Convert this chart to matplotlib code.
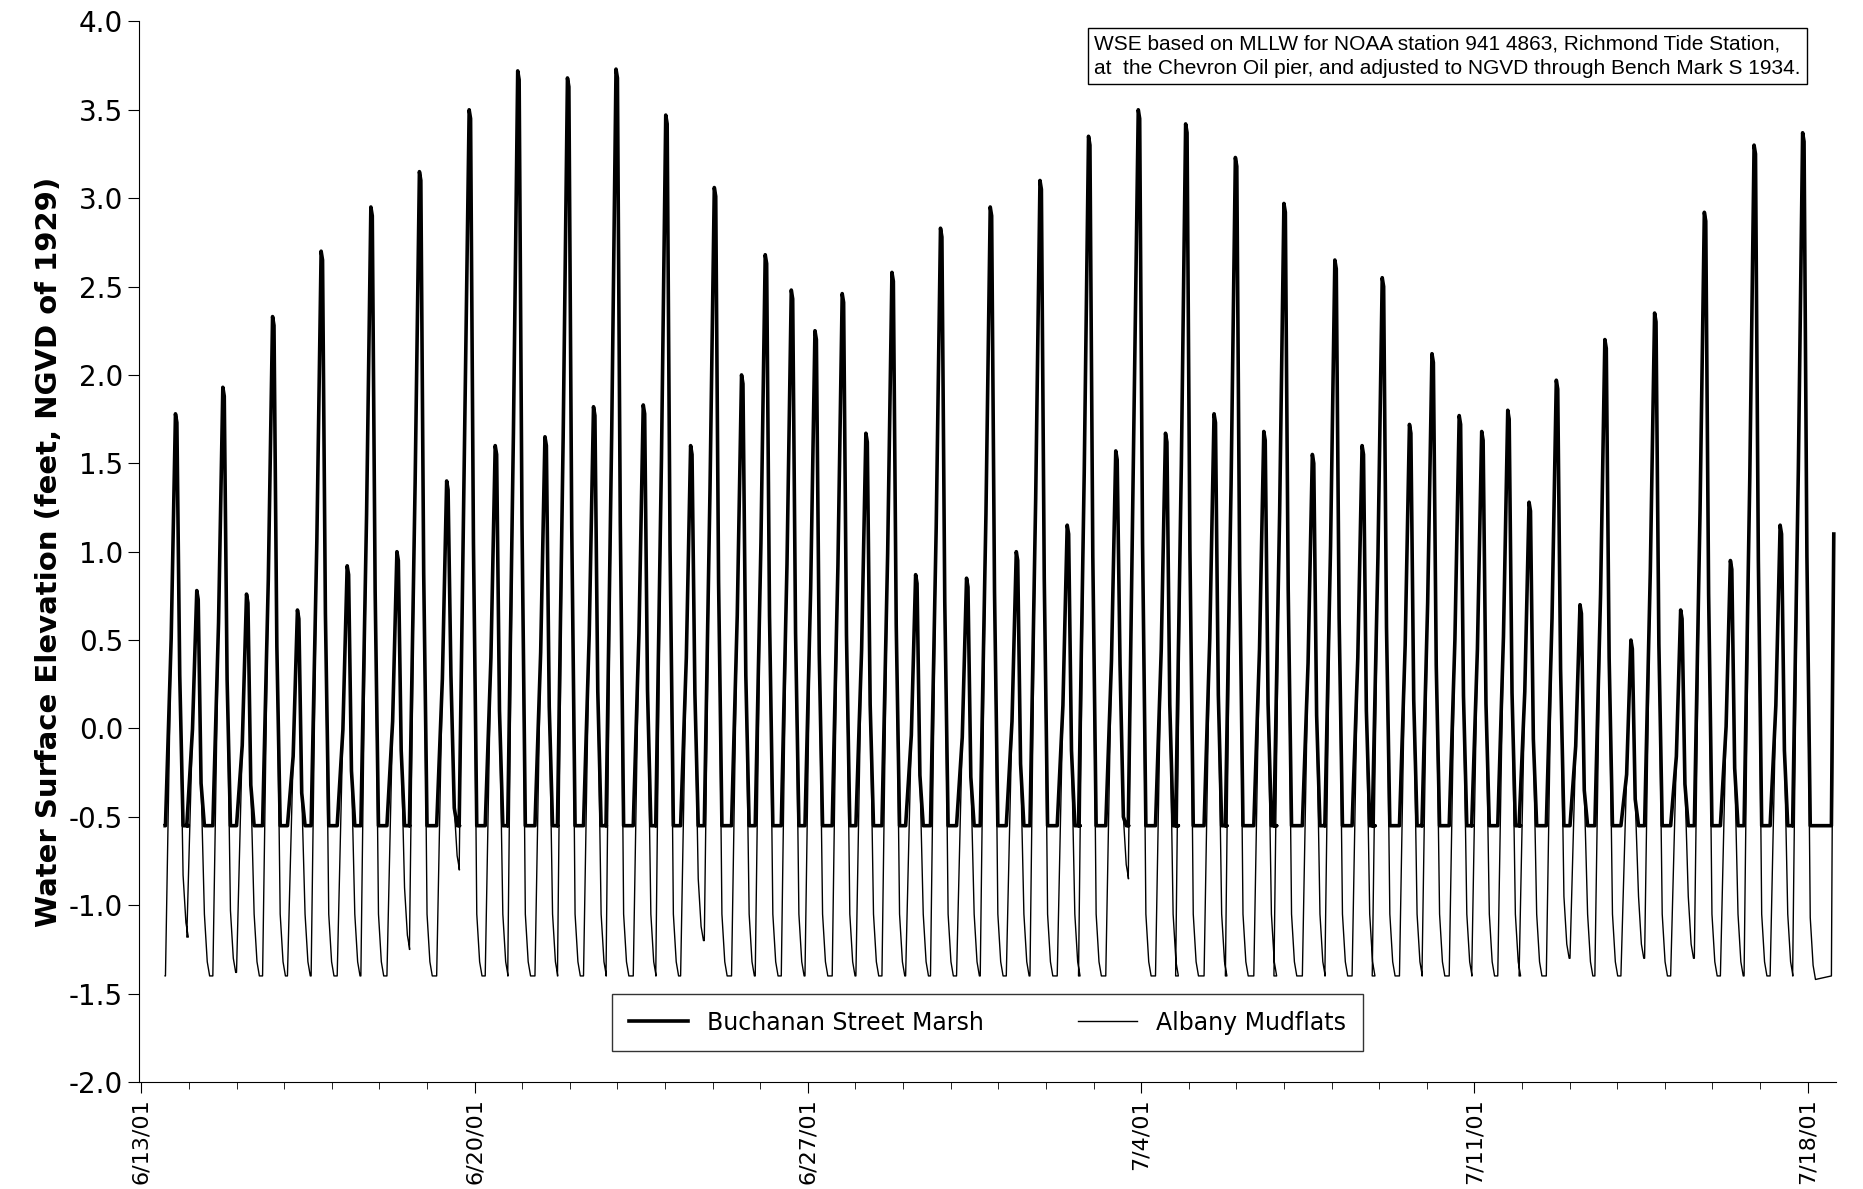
import numpy as np
import matplotlib
matplotlib.use("Agg")
import matplotlib.pyplot as plt

# High-tide peaks: pixel-read positions converted to days since 6/13/01
peak_px = [147,165,187,207,229,250,270,292,312,334,353,376,395,417,436,459,478,500,519,542,
           561,582,602,625,645,667,687,710,730,752,772,793,815,835,857,877,900,918,941,960,
           983,1000,1024,1042,1066,1083,1107,1126,1149,1166,1189,1208,1231,1250,1272,1290,1313,
           1333,1354,1376,1396,1418,1438,1460,1480,1502,1521]
peak_ft = [1.78,0.78,1.93,0.76,2.33,0.67,2.70,0.92,2.95,1.00,3.15,1.40,3.50,1.60,3.72,1.65,3.68,1.82,3.73,1.83,
           3.47,1.60,3.06,2.00,2.68,2.48,2.25,2.46,1.67,2.58,0.87,2.83,0.85,2.95,1.00,3.10,1.15,3.35,1.57,3.50,
           1.67,3.42,1.78,3.23,1.68,2.97,1.55,2.65,1.60,2.55,1.72,2.12,1.77,1.68,1.80,1.28,1.97,
           0.70,2.20,0.50,2.35,0.67,2.92,0.95,3.30,1.15,3.37]
# Mudflat low after each peak
low_ft = [-1.18,-1.40,-1.38,-1.40,-1.40,-1.40,-1.40,-1.40,-1.40,-1.25,-1.40,-0.80,-1.40,-1.40,-1.40,-1.40,-1.40,-1.40,-1.40,-1.40,
          -1.40,-1.20,-1.40,-1.40,-1.40,-1.40,-1.40,-1.40,-1.40,-1.40,-1.40,-1.40,-1.40,-1.40,-1.40,-1.40,-1.40,-1.40,-0.85,-1.40,
          -1.40,-1.40,-1.40,-1.40,-1.40,-1.40,-1.40,-1.40,-1.40,-1.40,-1.40,-1.40,-1.40,-1.40,-1.40,-1.40,-1.30,
          -1.40,-1.40,-1.30,-1.40,-1.30,-1.40,-1.40,-1.40,-1.40,-1.42]
marsh_floor = -0.55
date_labels = ["6/13/01","6/20/01","6/27/01","7/4/01","7/11/01","7/18/01"]

px_per_day = (1524-117)/35.0
tp = (np.array(peak_px)-117)/px_per_day
t = [0.5]; y = [-1.40]
for p, h, lo in zip(tp, peak_ft, low_ft):
    base = y[-1]
    t += [p-0.24, p-0.12, p-0.03, p, p+0.06, p+0.13, p+0.19, p+0.24]
    y += [base, base+0.6*(h-base), h, h-0.05, h-0.5*(h-lo), lo+0.35, lo+0.08, lo]
t += [35.5, 35.55]; y += [-1.40, 1.1]
t = np.array(t); y = np.array(y)
marsh = np.maximum(y, marsh_floor)

fig = plt.figure(figsize=(18.63, 11.89), dpi=100)
ax = fig.add_axes([0.0746, 0.09, 0.911, 0.892])
ax.plot(t, marsh, color="black", lw=2.6, label="Buchanan Street Marsh")
ax.plot(t, y, color="black", lw=1.0, label="Albany Mudflats")
ax.set_xlim(-0.05, 35.6)
ax.set_ylim(-2.0, 4.0)
ax.set_yticks(np.arange(-2.0, 4.01, 0.5))
ax.set_yticklabels([f"{v:.1f}" for v in np.arange(-2.0, 4.01, 0.5)], fontsize=20)
ax.set_xticks(np.arange(0, 36, 7))
ax.set_xticklabels(date_labels, rotation=90, fontsize=16)
ax.xaxis.set_minor_locator(matplotlib.ticker.MultipleLocator(1))
ax.tick_params(which="major", length=8)
ax.tick_params(which="minor", length=5)
ax.set_ylabel("Water Surface Elevation (feet, NGVD of 1929)", fontsize=21, fontweight="bold")
leg = ax.legend(loc="lower center", bbox_to_anchor=(0.5, 0.018), ncol=2, fontsize=17,
                frameon=True, fancybox=False, edgecolor="black", handlelength=2.5,
                columnspacing=4, borderpad=0.7)
leg.get_frame().set_linewidth(1.0)
ax.text(0.979, 0.988, "WSE based on MLLW for NOAA station 941 4863, Richmond Tide Station,\n"
        "at  the Chevron Oil pier, and adjusted to NGVD through Bench Mark S 1934.",
        transform=ax.transAxes, ha="right", va="top", multialignment="left", fontsize=15,
        family="Liberation Sans", linespacing=1.4,
        bbox=dict(boxstyle="square,pad=0.3", fc="white", ec="black"))
for s in ["top", "right"]:
    ax.spines[s].set_visible(False)
fig.savefig("out.png", dpi=100)
